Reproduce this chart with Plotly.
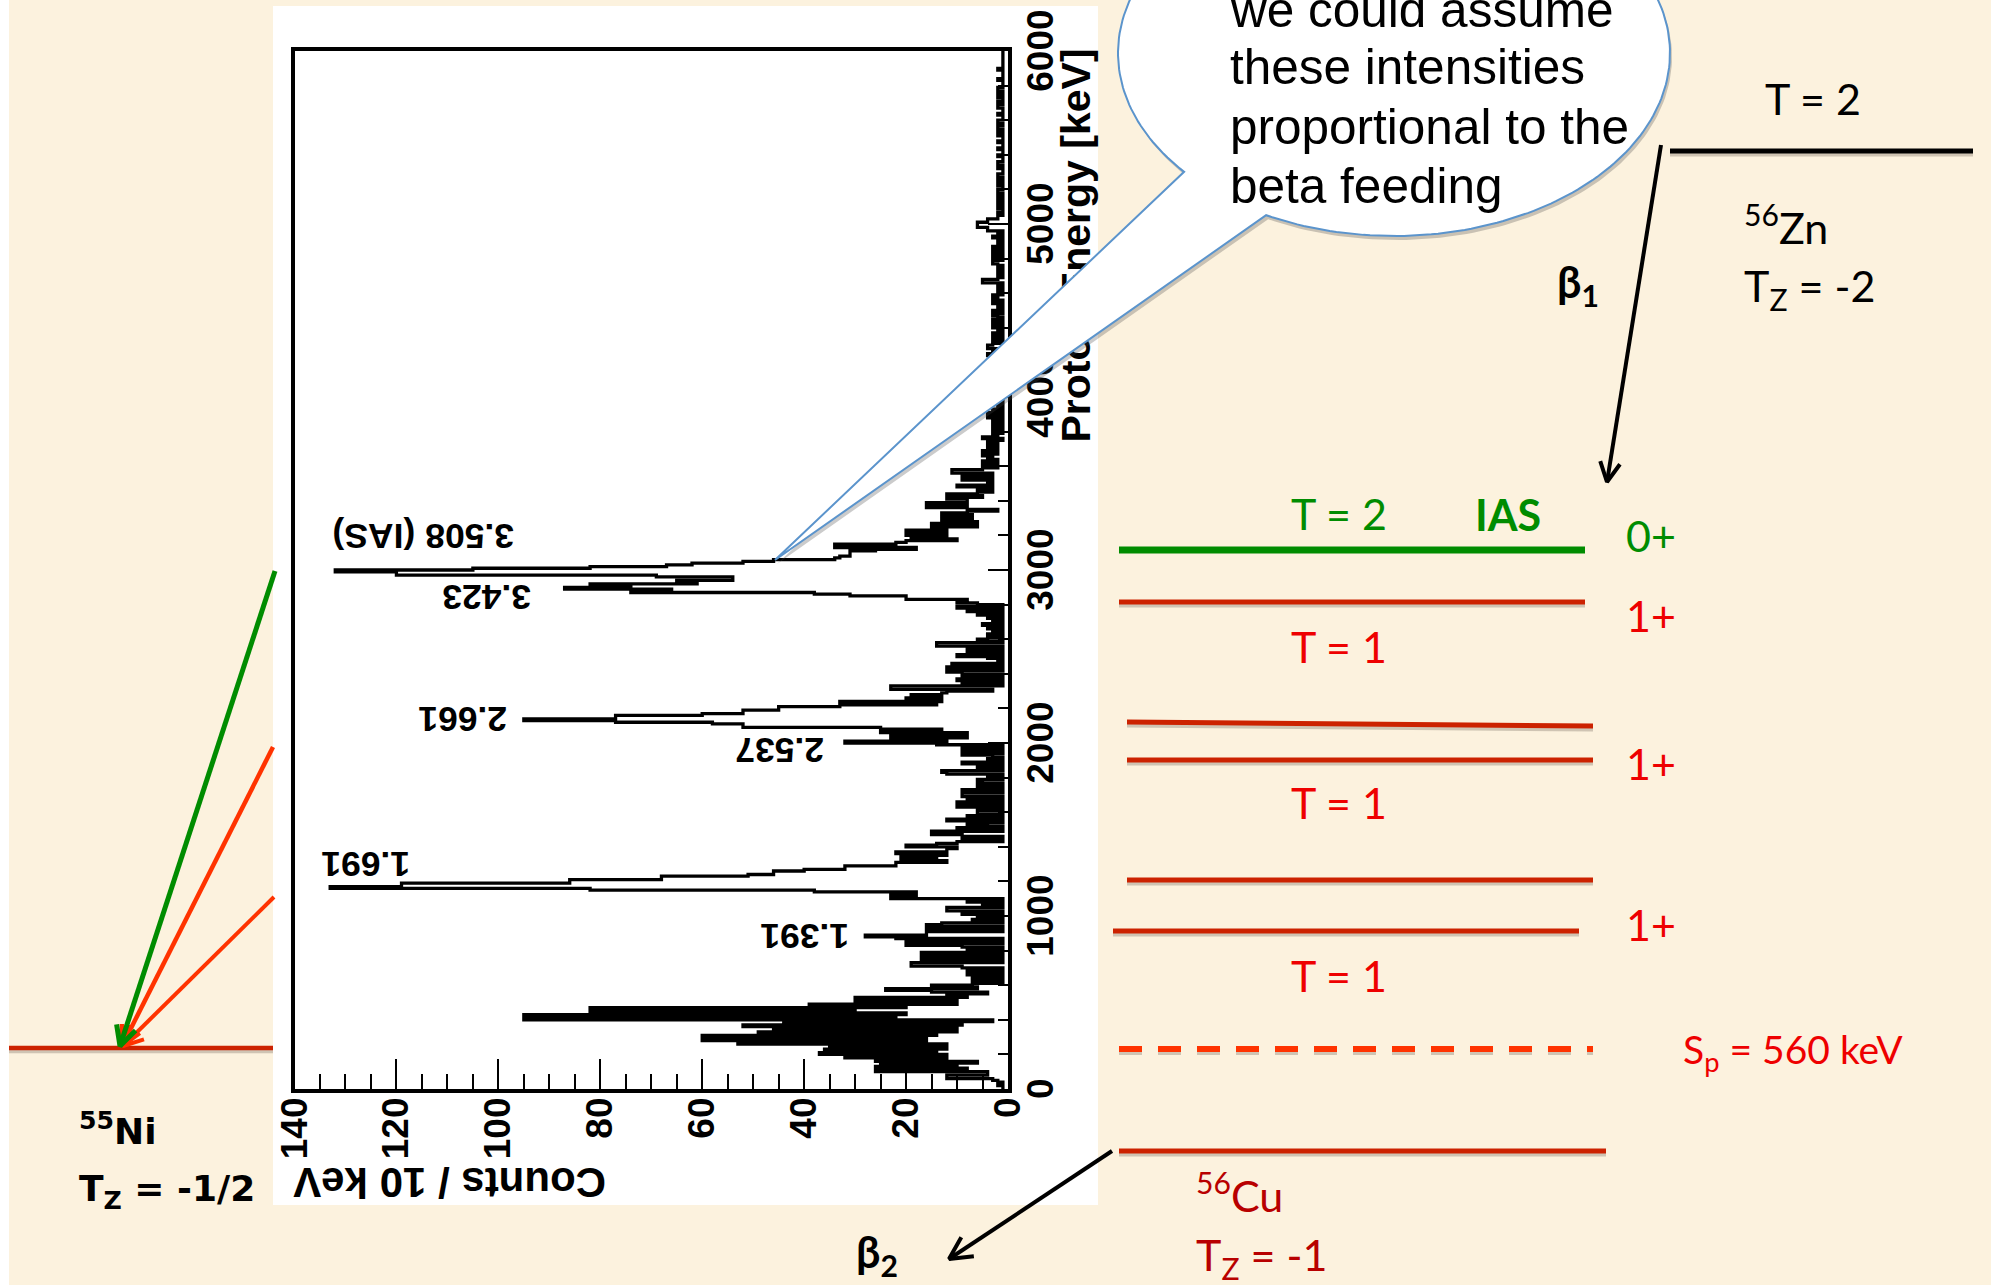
import numpy as np
import plotly.graph_objects as go

# ---------- Spectrum: counts per 10 keV, one row = 100 keV ----------
counts_0_1000 = [
    1,1,2,1,2,3,12,12,4,4,
    26,8,26,10,25,6,26,12,32,12,
    37,14,36,12,35,12,53,16,60,16,
    60,14,49,10,46,10,52,9,44,3,
    95,22,95,20,82,30,82,20,39,10,
    10,30,30,8,12,4,15,24,6,15,
    7,1,7,1,7,1,8,1,8,1,
    9,19,19,1,17,1,17,1,17,1,
    8,1,9,20,1,20,1,22,28,16,
    16,1,16,1,16,13,1,7,1,6,
]
counts_1000_2000 = [
    1,9,1,12,12,1,5,1,8,1,
    23,23,18,18,38,82,133,119,119,86,
    86,68,68,51,46,46,40,32,32,22,
    22,12,21,14,21,12,22,12,12,10,
    20,14,10,1,9,1,9,15,15,1,
    10,1,4,8,1,12,1,8,1,6,
    6,1,5,10,1,10,1,8,1,9,
    9,1,9,1,4,6,1,5,6,1,
    4,1,12,13,1,6,2,1,9,1,
    4,1,3,9,1,9,1,9,1,14,
]
counts_2000_3000 = [
    32,12,23,8,23,8,25,13,25,52,
    52,58,77,95,77,77,60,52,52,45,
    45,33,14,33,13,20,13,19,13,12,
    3,23,23,1,9,1,10,1,9,1,
    9,12,1,12,1,11,1,2,1,4,
    10,1,8,1,8,1,14,14,1,6,
    4,1,4,1,3,1,4,1,5,1,
    3,1,4,1,6,1,8,1,10,1,
    6,10,8,20,20,31,38,74,66,87,
    74,82,61,65,54,54,69,120,120,132,
]
counts_3000_4000 = [
    105,82,67,62,52,46,34,33,31,31,
    31,26,18,34,34,22,20,10,19,12,
    20,12,20,12,15,6,15,6,13,7,
    13,7,13,8,2,8,16,8,16,8,
    8,12,5,12,6,3,6,3,10,4,
    3,3,9,3,9,3,11,11,5,2,
    5,2,5,2,4,3,5,2,5,2,
    4,2,4,2,4,1,5,2,3,1,
    3,1,3,1,3,1,3,1,4,1,
    4,1,3,1,2,1,3,1,2,1,
]
counts_4000_5000 = [
    3,1,4,1,4,2,3,1,4,2,
    3,1,4,2,3,1,4,1,3,1,
    4,2,3,1,4,1,3,1,4,4,
    3,1,3,1,3,1,3,1,2,1,
    3,1,3,1,3,1,2,3,1,3,
    2,1,2,1,3,1,3,2,3,1,
    2,1,2,1,2,1,5,5,2,1,
    2,1,2,1,2,1,2,3,3,1,
    3,1,3,1,3,1,3,1,2,1,
    2,1,3,1,2,1,4,4,6,6,
]
counts_5000_6000 = [
    6,4,4,2,2,1,2,1,1,2,
    1,2,1,2,2,1,2,1,2,2,
    1,1,2,1,2,1,1,2,2,1,
    1,1,2,1,2,2,1,1,1,2,
    1,1,1,2,1,1,1,2,1,1,
    1,2,1,2,1,2,2,1,2,2,
    1,1,1,2,1,1,1,2,2,1,
    2,1,1,2,2,1,1,2,2,1,
    1,1,1,2,1,1,1,1,1,2,
    1,1,1,1,1,1,1,1,1,1,
]
energy_tick_labels = [0, 1000, 2000, 3000, 4000, 5000, 6000]
count_tick_labels = [0, 20, 40, 60, 80, 100, 120, 140]

counts = (counts_0_1000 + counts_1000_2000 + counts_2000_3000 +
          counts_3000_4000 + counts_4000_5000 + counts_5000_6000)
energy = [10 * i for i in range(len(counts))]

# ---------- page geometry ----------
W, H = 1991, 1285
px = lambda v: v / W
py = lambda v: 1 - v / H
BG = "#FCF2DE"
RED, DARK = "#CC2200", "#FF3300"
GREEN = "#008C00"
SANS, SLIDE = "Liberation Sans", "Lato"

fig = go.Figure()

# spectrum
fig.add_trace(go.Scatter(x=counts + [counts[-1]], y=energy + [6000], mode="lines",
                         line=dict(color="black", width=3.3, shape="vh"),
                         xaxis="x", yaxis="y", showlegend=False, hoverinfo="skip"))
# carrier of the rotated energy-axis label (kept in the axis layer, under the balloon)
fig.add_trace(go.Scatter(x=[0], y=[0], mode="markers", marker=dict(opacity=0),
                         xaxis="x", yaxis="y3", showlegend=False, hoverinfo="skip"))


def slide_line(xs, ys, color, width, dash=None, shadow=True):
    if shadow:
        fig.add_trace(go.Scatter(x=xs, y=[v + 3 if v is not None else None for v in ys], mode="lines",
                                 line=dict(color="rgba(90,80,70,0.28)", width=width, dash=dash),
                                 xaxis="x2", yaxis="y2", showlegend=False, hoverinfo="skip"))
    fig.add_trace(go.Scatter(x=xs, y=ys, mode="lines",
                             line=dict(color=color, width=width, dash=dash),
                             xaxis="x2", yaxis="y2", showlegend=False, hoverinfo="skip"))


def slide_arrow(x0, y0, x1, y1, color, width, head=22, spread=27):
    a = np.arctan2(y0 - y1, x0 - x1)
    b = np.radians(spread)
    bx = [x1 + head * np.cos(a + s * b) for s in (1, -1)]
    by = [y1 + head * np.sin(a + s * b) for s in (1, -1)]
    slide_line([x0, x1, None, bx[0], x1, bx[1]], [y0, y1, None, by[0], y1, by[1]],
               color, width, shadow=False)


# callout balloon (second, full-page subplot drawn above the first one's labels)
cx, cy, rx, ry = 1394, 53, 276, 183
t = np.radians(np.linspace(139.5, 360 + 117.6, 240))
bal_x = [775.0] + list(cx + rx * np.cos(t)) + [775.0]
bal_y = [560.0] + list(cy + ry * np.sin(t)) + [560.0]
fig.add_trace(go.Scatter(x=[v + 2 for v in bal_x], y=[v + 4 for v in bal_y], mode="lines",
                         fill="toself", fillcolor="rgba(70,70,70,0.28)",
                         line=dict(width=0, color="rgba(0,0,0,0)"),
                         xaxis="x2", yaxis="y2", showlegend=False, hoverinfo="skip"))
fig.add_trace(go.Scatter(x=bal_x, y=bal_y, mode="lines", fill="toself", fillcolor="white",
                         line=dict(color="#5B94CC", width=2),
                         xaxis="x2", yaxis="y2", showlegend=False, hoverinfo="skip"))

# level scheme
slide_line([1670, 1973], [151, 151], "black", 5)
slide_line([1119, 1585], [550, 550], GREEN, 7, shadow=False)
slide_line([1119, 1585], [602, 602], RED, 5)
slide_line([1127, 1593], [722, 726], RED, 5)
slide_line([1127, 1593], [760, 760], RED, 5)
slide_line([1127, 1593], [880, 880], RED, 5)
slide_line([1113, 1579], [931, 931], RED, 5)
slide_line([1119, 1593], [1049, 1049], DARK, 6, dash="23px,16px")
slide_line([1119, 1606], [1151, 1151], RED, 5)
slide_line([9, 273], [1048, 1048], RED, 4.5)

slide_arrow(274, 897, 123, 1046, DARK, 4)
slide_arrow(273, 747, 122, 1046, DARK, 4.5)
slide_arrow(275, 571, 120, 1046, GREEN, 5)
slide_arrow(1661, 145, 1607, 482, "black", 4)
slide_arrow(1112, 1151, 949, 1259, "black", 4, head=25)


def note(x, y, text, size, color="black", family=SLIDE, anchor="center", angle=0, bold=False):
    fig.add_annotation(x=x, y=y, xref="x2", yref="y2", text=text, showarrow=False,
                       xanchor=anchor, yanchor="middle", textangle=angle,
                       font=dict(family=family, size=size, color=color,
                                 weight="bold" if bold else "normal"))


# balloon text
for yy, line in zip([9, 66, 126, 185],
                    ["we could assume", "these intensities", "proportional to the", "beta feeding"]):
    note(1228, yy, line, 49.5, family=SANS, anchor="left")

# slide labels
note(1813, 98, "T = 2", 43)
note(1742, 224, "<sup>56</sup>Zn", 43, anchor="left")
note(1742, 288, "T<sub>Z</sub> = -2", 43, anchor="left")
note(1578, 284, "β<sub>1</sub>", 43, bold=True)
note(1339, 513, "T = 2", 43, GREEN)
note(1508, 514, "IAS", 43, GREEN, bold=True)
note(1651, 535, "0+", 43, GREEN)
for yy in (615, 763, 924):
    note(1651, yy, "1+", 43, "#EE0000")
for yy in (646, 802, 975):
    note(1339, yy, "T = 1", 43, "#EE0000")
note(1681, 1052, "S<sub>p</sub> = 560 keV", 39, "#EE0000", anchor="left")
note(1194, 1192, "<sup>56</sup>Cu", 43, "#B80000", anchor="left")
note(1194, 1257, "T<sub>Z</sub> = -1", 43, "#B80000", anchor="left")
note(877, 1254, "β<sub>2</sub>", 43, bold=True)
note(77, 1129, "<sup>55</sup>Ni", 36, family="DejaVu Sans", anchor="left", bold=True)
note(77, 1191, "T<sub>Z</sub> = -1/2", 36, family="DejaVu Sans", anchor="left", bold=True)

# spectrum labels (upside down as in the slide)
for xx, yy, label in [(423, 536, "3.508 (IAS)"), (487, 597, "3.423"), (463, 719, "2.661"),
                      (780, 750, "2.537"), (366, 864, "1.691"), (805, 936, "1.391")]:
    note(xx, yy, label, 35.5, family=SANS, angle=180, bold=True)
note(450, 1183, "Counts / 10 keV", 42, family=SANS, angle=180, bold=True)

# white panel behind the spectrum, white page strip at the left
fig.add_shape(type="rect", xref="paper", yref="paper", layer="below", line_width=0, fillcolor="white",
              x0=px(273), x1=px(1098), y0=py(1205), y1=py(6))
fig.add_shape(type="rect", xref="paper", yref="paper", layer="below", line_width=0, fillcolor="white",
              x0=0, x1=px(9), y0=0, y1=1)

tick_font = dict(family=SANS, size=37, color="black", weight="bold")
fig.update_layout(
    template="none",
    width=W, height=H, margin=dict(l=0, r=0, t=0, b=0, pad=0), autosize=False,
    paper_bgcolor=BG, plot_bgcolor="rgba(0,0,0,0)", showlegend=False,
    xaxis=dict(domain=[px(294.5), px(1008)], range=[140, 0], anchor="y", side="bottom", automargin=False,
               tickmode="array", tickvals=count_tick_labels, tickangle=-90, tickfont=tick_font,
               ticks="inside", ticklen=30, tickwidth=2, tickcolor="black",
               minor=dict(dtick=5, ticks="inside", ticklen=15, tickwidth=2, tickcolor="black", showgrid=False),
               ticklabelstandoff=-10, showgrid=False, zeroline=False, ticklabeloverflow="allow",
               showline=True, linewidth=3.5, linecolor="black", mirror=True),
    yaxis=dict(domain=[py(1089), py(51)], range=[0, 6000], anchor="x", side="right", automargin=False,
               tickmode="array", tickvals=energy_tick_labels,
               ticktext=[f"{v}\u00a0" for v in energy_tick_labels],
               tickangle=-90, tickfont=tick_font,
               ticks="inside", ticklen=20, tickwidth=2, tickcolor="black",
               minor=dict(dtick=200, ticks="inside", ticklen=10, tickwidth=2, tickcolor="black", showgrid=False),
               ticklabelstandoff=-3, showgrid=False, zeroline=False, ticklabeloverflow="allow",
               showline=True, linewidth=3.5, linecolor="black", mirror=True),
    yaxis3=dict(overlaying="y", side="right", anchor="free", position=px(1048), range=[0, 6000], automargin=False,
                tickmode="array", tickvals=[4840], ticktext=["Proton Energy [keV]"], tickangle=-90,
                tickfont=dict(family=SANS, size=41, color="black", weight="bold"),
                ticks="", showgrid=False, zeroline=False, showline=False),
    xaxis2=dict(domain=[0, 1], range=[0, W], anchor="y2", visible=False, automargin=False),
    yaxis2=dict(domain=[0, 1], range=[H, 0], anchor="x2", visible=False, automargin=False),
)

fig.write_html("out.html", config={"displayModeBar": False},
               post_script="document.body.style.margin='0';document.body.style.overflow='hidden';")
